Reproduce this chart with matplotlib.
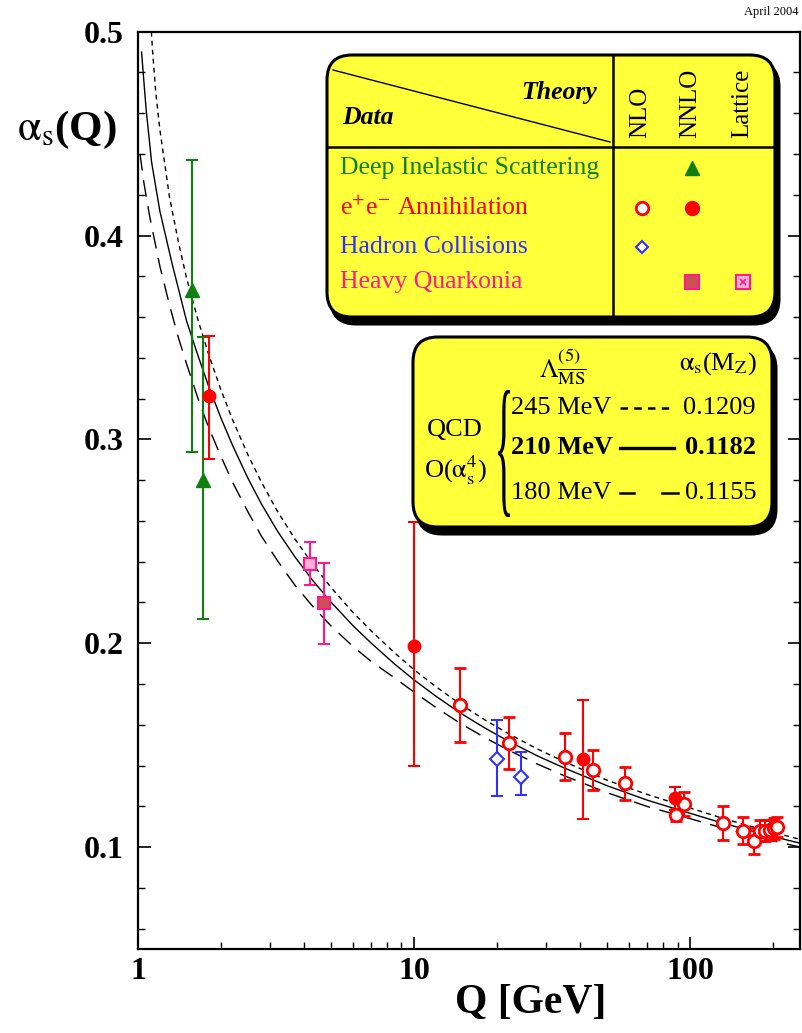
import matplotlib
matplotlib.use("Agg")
import matplotlib.pyplot as plt
from matplotlib.patches import FancyBboxPatch, PathPatch
from matplotlib.lines import Line2D
from matplotlib.textpath import TextPath
from matplotlib.font_manager import FontProperties
from matplotlib.transforms import Affine2D

plt.rcParams['font.family'] = ['Liberation Serif', 'DejaVu Serif']
plt.rcParams['mathtext.fontset'] = 'stix'

# ---- theory curves ----
q245 = [1.118, 1.13, 1.16, 1.2, 1.3, 1.4, 1.5, 1.65, 1.8, 2.0, 2.2, 2.5, 2.8, 3.2, 3.7, 4.3,
        5.0, 6.0, 7.0, 8.5, 10, 12, 14.7, 18, 22, 28, 35, 50, 70, 91.2, 130, 180, 250]
a245 = [0.500, 0.490, 0.470, 0.452, 0.419, 0.397, 0.379, 0.3585, 0.342, 0.324, 0.3097,
        0.2925, 0.279, 0.2647, 0.2512, 0.2387, 0.2274, 0.2152, 0.206, 0.1953, 0.187,
        0.1787, 0.1701, 0.1625, 0.1556, 0.1481, 0.1419, 0.1328, 0.1258, 0.1209, 0.1143,
        0.1088, 0.1038]

q210 = [1.03, 1.07, 1.12, 1.2, 1.33, 1.5, 1.65, 1.8, 2.0, 2.2, 2.5, 2.8, 3.2, 3.7, 4.3,
        5.0, 6.0, 7.0, 8.5, 10, 12, 14.7, 18, 22, 28, 35, 50, 70, 91.2, 130, 180, 250]
a210 = [0.490, 0.462, 0.436, 0.412, 0.386, 0.358, 0.341, 0.3263, 0.3103, 0.2971, 0.281,
        0.2683, 0.255, 0.2424, 0.2307, 0.2202, 0.2087, 0.2, 0.1898, 0.182, 0.174, 0.1658,
        0.1585, 0.1519, 0.1447, 0.1388, 0.1301, 0.123, 0.1182, 0.1119, 0.1067, 0.1019]

q180 = [1.017, 1.05, 1.1, 1.2, 1.3, 1.4, 1.5, 1.65, 1.8, 2.0, 2.2, 2.5, 2.8, 3.2, 3.7, 4.3,
        5.0, 6.0, 7.0, 8.5, 10, 12, 14.7, 18, 22, 28, 35, 50, 70, 91.2, 130, 180, 250]
a180 = [0.440, 0.426, 0.410, 0.385, 0.366, 0.350, 0.337, 0.320, 0.306, 0.2915, 0.279,
        0.2645, 0.2525, 0.2405, 0.2285, 0.218, 0.2085, 0.1985, 0.191, 0.183, 0.176, 0.1685,
        0.1607, 0.1538, 0.1475, 0.1407, 0.135, 0.1267, 0.1199, 0.1155, 0.1095, 0.1045, 0.100]

# ---- measurements ----
dis_q = [1.565, 1.716]
dis_a = [0.3734, 0.2801]
dis_lo = [0.0794, 0.0682]
dis_hi = [0.0637, 0.0702]

ee2_q = [1.813, 10.0, 40.9, 88.3]
ee2_a = [0.3215, 0.1987, 0.1431, 0.1239]
ee2_lo = [0.0309, 0.0589, 0.0292, 0.0057]
ee2_hi = [0.0293, 0.0608, 0.0291, 0.0057]

ee1_q = [14.7, 22.1, 35.2, 44.6, 58.2, 89.0, 95.4, 131, 156, 171, 179, 187, 195, 201.5, 207]
ee1_a = [0.1697, 0.1512, 0.1444, 0.1378, 0.1313, 0.1158, 0.1211, 0.1117, 0.1081, 0.1031,
         0.1081, 0.1081, 0.1084, 0.1092, 0.1100]
ee1_err = [0.018, 0.0127, 0.0117, 0.0099, 0.008, 0.003, 0.006, 0.0084, 0.0068, 0.0065,
           0.005, 0.005, 0.005, 0.005, 0.005]

had_q = [20.0, 24.4]
had_a = [0.1431, 0.1342]
had_lo = [0.018, 0.0088]
had_hi = [0.0193, 0.0125]

hq_q = [4.72]
hq_a = [0.2196]
hq_err = [0.02]

lat_q = [4.20]
lat_a = [0.2389]
lat_lo = [0.0103]
lat_hi = [0.011]

GREEN = '#0f7f0f'
RED = '#ff0000'
BLUE = '#3030ff'
PINK = '#ff1a8c'
SQFACE = '#cc4f55'
YELLOW = '#ffff3a'

W, H = 802, 1033
fig = plt.figure(figsize=(W / 100, H / 100), dpi=100)
ax = fig.add_axes([138 / W, (H - 949) / H, 662 / W, (949 - 31.7) / H])

ax.plot(q245, a245, color='k', lw=1.0, dashes=(3.5, 3))
ax.plot(q210, a210, color='k', lw=1.0)
ax.plot(q180, a180, color='k', lw=1.0, dashes=(12, 7))

eb = dict(capsize=4, elinewidth=1.5, capthick=1.5, ls='none')
ax.errorbar(dis_q, dis_a, yerr=[dis_lo, dis_hi], marker='^', ms=10, color=GREEN, **eb)
ax.errorbar(ee1_q, ee1_a, yerr=ee1_err, marker='o', ms=9, mfc='white', mec=RED, mew=2,
            color=RED, **eb)
ax.errorbar(ee2_q, ee2_a, yerr=[ee2_lo, ee2_hi], marker='o', ms=9, color=RED, **eb)
ax.errorbar(had_q, had_a, yerr=[had_lo, had_hi], marker='D', ms=7, mfc='white', mec=BLUE,
            mew=1.5, color=BLUE, **eb)
ax.errorbar(hq_q, hq_a, yerr=hq_err, marker='s', ms=9, mfc=SQFACE, mec=PINK, mew=1.5,
            color=PINK, **eb)
ax.errorbar(lat_q, lat_a, yerr=[lat_lo, lat_hi], marker='s', ms=9, mfc='#ffb0d8', mec=PINK,
            mew=1.5, color=PINK, **eb)
ax.plot(lat_q, lat_a, marker='x', ms=5, mew=1.2, color=PINK, ls='none')

ax.set_xscale('log')
ax.set_xlim(1, 250)
ax.set_ylim(0.05, 0.5)
ax.set_xticks([1, 10, 100])
ax.set_xticklabels(['1', '10', '100'], fontweight='bold', fontsize=23)
ax.set_yticks([0.1, 0.2, 0.3, 0.4, 0.5])
ax.set_yticklabels(['0.1', '0.2', '0.3', '0.4', '0.5'], fontweight='bold', fontsize=23)
ax.set_yticks([0.06, 0.08, 0.12, 0.14, 0.16, 0.18, 0.22, 0.24, 0.26, 0.28, 0.32, 0.34,
               0.36, 0.38, 0.42, 0.44, 0.46, 0.48], minor=True)
ax.tick_params(which='both', direction='in', right=True, top=False)
ax.tick_params(which='major', length=9, width=1.2)
ax.tick_params(which='minor', length=5, width=1.0)
ax.tick_params(axis='y', pad=10)
ax.tick_params(axis='x', pad=6)
for s in ax.spines.values():
    s.set_linewidth(1.6)

# axis titles
fig.text(17 / W, 1 - 130 / H, r'$\mathrm{\alpha}_{\rm s}$(Q)', fontsize=31, fontweight='bold',
         ha='left', va='center')
fig.text(531 / W, 1 - 1003 / H, 'Q [GeV]', fontsize=30, fontweight='bold',
         ha='center', va='center')
fig.text(798 / W, 1 - 12 / H, 'April 2004', fontsize=9, ha='right', va='center')

# ---- boxes drawn in pixel space ----
T = fig.dpi_scale_trans


def px(x, y):
    return x / 100, (H - y) / 100


def box(x0, y0, x1, y1):
    for off, fc in (((4, 7), 'black'), ((0, 0), YELLOW)):
        bx, by = px(x0 + off[0], y1 + off[1])
        p = FancyBboxPatch((bx, by), (x1 - x0) / 100, (y1 - y0) / 100,
                           boxstyle='round,pad=0,rounding_size=0.25',
                           transform=T, fc=fc, ec='black', lw=2.2, zorder=5)
        fig.add_artist(p)


def line(xs, ys, **kw):
    fig.add_artist(Line2D([x / 100 for x in xs], [(H - y) / 100 for y in ys],
                          transform=T, zorder=6, **kw))


def text(x, y, s, **kw):
    fig.text(*px(x, y), s, transform=T, zorder=7, **kw)


def mark(x, y, **kw):
    fig.add_artist(Line2D([x / 100], [(H - y) / 100], transform=T, zorder=7, ls='none', **kw))


# data / theory box
box(327, 55, 775, 317)
line([613, 613], [55, 317], color='k', lw=1.8)
line([327, 775], [147, 147], color='k', lw=1.8)
line([333, 610], [70, 142], color='k', lw=1.0)
text(597, 92, 'Theory', fontsize=18.5, fontweight='bold', style='italic', ha='right', va='center')
text(342, 117, 'Data', fontsize=18.5, fontweight='bold', style='italic', ha='left', va='center')
for cx, lab in ((640, 'NLO'), (690, 'NNLO'), (742, 'Lattice')):
    text(cx, 138, lab, fontsize=18, rotation=90, rotation_mode='anchor', ha='left', va='center')
text(340, 168, 'Deep Inelastic Scattering', fontsize=18.5, color=GREEN, va='center')
text(340, 208, r'e$^{+}$e$^{-}$ Annihilation', fontsize=18.5, color=RED, va='center')
text(340, 247, 'Hadron Collisions', fontsize=18.5, color=BLUE, va='center')
text(340, 282, 'Heavy Quarkonia', fontsize=18.5, color=PINK, va='center')
mark(692, 168, marker='^', ms=10, color=GREEN)
mark(642, 208, marker='o', ms=9, mfc='white', mec=RED, mew=2)
mark(692, 208, marker='o', ms=10, color=RED)
mark(642, 247, marker='D', ms=6.5, mfc='white', mec=BLUE, mew=1.5)
mark(692, 282, marker='s', ms=9.5, mfc=SQFACE, mec=PINK, mew=1.5)
mark(743, 282, marker='s', ms=9.5, mfc='#ffb0d8', mec=PINK, mew=1.5)
mark(743, 282, marker='x', ms=5, mew=1.2, color=PINK)

# QCD curves box
box(413, 337, 772, 527)
text(563, 367, r'$\Lambda^{(5)}_{\overline{\rm MS}}$', fontsize=19, ha='center', va='center')
text(757, 364, r'$\mathrm{\alpha}_{\rm s}$(M$_{\rm Z}$)', fontsize=19, ha='right', va='center')
text(455, 430, 'QCD', fontsize=19, ha='center', va='center')
text(455, 470, r'O($\mathrm{\alpha}_{\rm s}^{4}$)', fontsize=19, ha='center', va='center')
text(511, 408, '245 MeV', fontsize=19, ha='left', va='center')
text(511, 448, '210 MeV', fontsize=19, fontweight='bold', ha='left', va='center')
text(511, 493, '180 MeV', fontsize=19, ha='left', va='center')
text(756, 408, '0.1209', fontsize=19, ha='right', va='center')
text(756, 448, '0.1182', fontsize=19, fontweight='bold', ha='right', va='center')
text(756, 493, '0.1155', fontsize=19, ha='right', va='center')
line([620, 674], [408, 408], color='k', lw=1.8, dashes=(3, 2.5))
line([620, 674], [448, 448], color='k', lw=2.4)
line([620, 634], [493, 493], color='k', lw=1.8)
line([662, 678], [493, 493], color='k', lw=1.8)

# curly brace, stretched to the three rows
tp = TextPath((0, 0), '{', size=100, prop=FontProperties(family='Liberation Serif'))
ext = tp.get_extents()
bw, bh = 12, 127
tr = (Affine2D().translate(-ext.x0, -ext.y0)
      .scale(bw / 100 / ext.width, bh / 100 / ext.height)
      .translate(498 / 100, (H - 517) / 100) + T)
fig.add_artist(PathPatch(tp, transform=tr, fc='k', lw=0, zorder=7))

fig.savefig('out.png', dpi=100)
